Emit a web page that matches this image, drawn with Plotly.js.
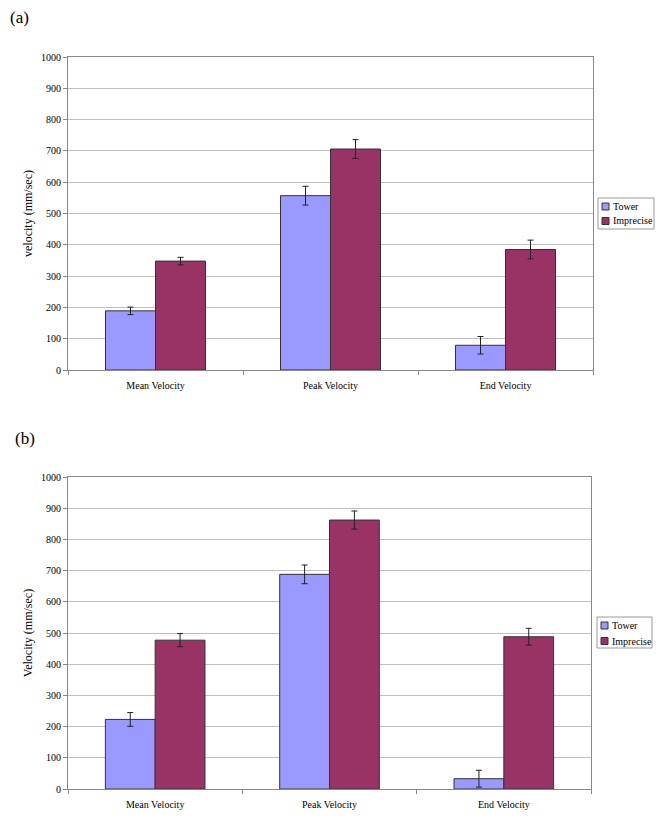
<!DOCTYPE html>
<html>
<head>
<meta charset="utf-8">
<script src="https://cdn.plot.ly/plotly-3.0.1.min.js"></script>
<style>html,body{margin:0;padding:0;background:#fff;}#chart{width:664px;height:822px;}</style>
</head>
<body>
<div id="chart"></div>
<script>
const categories = ["Mean Velocity", "Peak Velocity", "End Velocity"];
const seriesNames = ["Tower", "Imprecise"];
const towerA = [189, 557, 79];
const towerAErr = [12, 30, 28];
const impreciseA = [348, 706, 385];
const impreciseAErr = [12, 30, 30];
const towerB = [223, 688, 33];
const towerBErr = [22, 30, 27];
const impreciseB = [477, 862, 488];
const impreciseBErr = [21, 29, 27];
const yTicks = [0, 100, 200, 300, 400, 500, 600, 700, 800, 900, 1000];

const fontFam = 'Liberation Serif, Times New Roman, serif';
const colors = ['#9999FF', '#993366'];

function bar(name, y, err, color, xa, ya) {
  return {
    type: 'bar', name: name, x: categories, y: y,
    xaxis: xa, yaxis: ya, showlegend: false,
    marker: {color: color, line: {color: '#333333', width: 1}},
    error_y: {type: 'data', array: err, visible: true, color: '#222', thickness: 1, width: 3},
    hoverinfo: 'none'
  };
}

const data = [
  bar(seriesNames[0], towerA, towerAErr, colors[0], 'x', 'y'),
  bar(seriesNames[1], impreciseA, impreciseAErr, colors[1], 'x', 'y'),
  bar(seriesNames[0], towerB, towerBErr, colors[0], 'x2', 'y2'),
  bar(seriesNames[1], impreciseB, impreciseBErr, colors[1], 'x2', 'y2')
];

const W = 525;
function px2x(p) { return (p - 68) / W; }
const H = 822;
function px2y(p) { return 1 - p / H; }

const xaxisBase = {
  type: 'category', showline: true, linecolor: '#888', linewidth: 1, mirror: true,
  ticks: 'outside', tickson: 'boundaries', ticklen: 4, tickcolor: '#888',
  ticklabelstandoff: 6,
  tickfont: {family: fontFam, size: 10, color: '#000'}, showgrid: false, zeroline: false,
  fixedrange: true
};
const yaxisBase = {
  range: [0, 1000], tickvals: yTicks, ticktext: yTicks.map(String),
  showline: true, linecolor: '#888', linewidth: 1, mirror: true,
  ticks: 'outside', ticklen: 4, tickcolor: '#888',
  showgrid: true, gridcolor: '#c0c0c0', gridwidth: 1, zeroline: false,
  tickfont: {family: fontFam, size: 10, color: '#000'}, fixedrange: true
};

const shapes = [];
const annotations = [
  {text: '(a)', xref: 'paper', yref: 'paper', x: px2x(8), y: px2y(18), xanchor: 'left', yanchor: 'middle',
   showarrow: false, font: {family: fontFam, size: 17, color: '#000'}},
  {text: '(b)', xref: 'paper', yref: 'paper', x: px2x(13), y: px2y(438), xanchor: 'left', yanchor: 'middle',
   showarrow: false, font: {family: fontFam, size: 17, color: '#000'}}
];
function addLegend(bx0, by0, bx1, by1, rows) {
  shapes.push({type: 'rect', xref: 'paper', yref: 'paper',
    x0: px2x(bx0), x1: px2x(bx1), y0: px2y(by1), y1: px2y(by0),
    line: {color: '#999', width: 1}, fillcolor: '#fff'});
  rows.forEach(function (cy, i) {
    shapes.push({type: 'rect', xref: 'paper', yref: 'paper',
      x0: px2x(bx0 + 4), x1: px2x(bx0 + 11), y0: px2y(cy + 3.5), y1: px2y(cy - 3.5),
      line: {color: '#333', width: 1}, fillcolor: colors[i]});
    annotations.push({text: seriesNames[i], xref: 'paper', yref: 'paper',
      x: px2x(bx0 + 13), y: px2y(cy), xanchor: 'left', yanchor: 'middle', showarrow: false,
      font: {family: fontFam, size: 10, color: '#000'}});
  });
}
addLegend(598, 198, 654, 229, [206.5, 221]);
addLegend(597, 617, 652, 648, [625.5, 641]);

const layout = {
  width: 664, height: 822,
  margin: {l: 68, r: 71, t: 0, b: 0, autoexpand: false},
  paper_bgcolor: '#fff', plot_bgcolor: '#fff',
  barmode: 'group', bargap: 0.4286, bargroupgap: 0,
  showlegend: false,
  xaxis: Object.assign({}, xaxisBase, {domain: [0, 1], anchor: 'y'}),
  yaxis: Object.assign({}, yaxisBase, {domain: [px2y(370), px2y(57)], anchor: 'x',
    title: {text: 'velocity (mm/sec)', font: {family: fontFam, size: 12, color: '#000'}, standoff: 5}}),
  xaxis2: Object.assign({}, xaxisBase, {domain: [0, 523 / W], anchor: 'y2'}),
  yaxis2: Object.assign({}, yaxisBase, {domain: [px2y(789), px2y(477)], anchor: 'x2',
    title: {text: 'Velocity (mm/sec)', font: {family: fontFam, size: 12, color: '#000'}, standoff: 5}}),
  shapes: shapes,
  annotations: annotations
};

Plotly.newPlot('chart', data, layout, {displayModeBar: false, staticPlot: true});
</script>
</body>
</html>
